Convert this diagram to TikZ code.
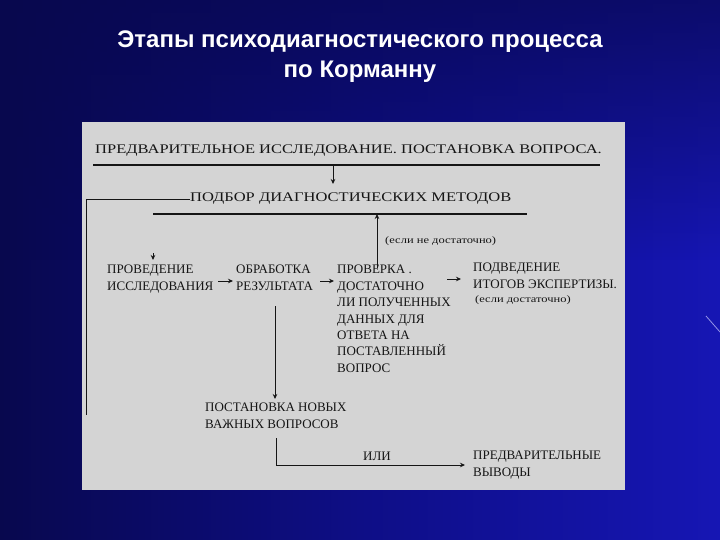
\documentclass[tikz,border=0pt]{standalone}
\usepackage{fontspec}
\setmainfont{Liberation Serif}
\newfontfamily\titlefont{Liberation Sans}
\newfontfamily\widefont[FakeStretch=1.25]{Liberation Serif}
\usetikzlibrary{arrows.meta,fadings}
\definecolor{bgdark}{HTML}{08084E}
\definecolor{bgmid}{HTML}{0E0E86}
\definecolor{bglight}{HTML}{1616B4}
\definecolor{panel}{HTML}{D4D4D4}
\definecolor{ink}{HTML}{151515}
\tikzset{
  big/.style={inner sep=0pt, anchor=west, text=ink, font=\widefont\fontsize{13.2}{16}\selectfont},
  lbl/.style={inner sep=0pt, anchor=west, text=ink, font=\fontsize{13}{16}\selectfont},
  blk/.style={inner sep=0pt, anchor=north west, align=left, text=ink, font=\fontsize{13}{16.4}\selectfont},
  small/.style={inner sep=0pt, anchor=west, text=ink, font=\widefont\fontsize{10}{11}\selectfont},
  rule/.style={draw=ink, line width=2pt},
  conn/.style={draw=ink, line width=0.8pt},
  arr/.style={conn, -{Stealth[length=5pt,width=4.5pt]}},
  ttl/.style={inner sep=0pt, text=white, font=\titlefont\bfseries\fontsize{24}{30}\selectfont}
}
\begin{document}
\begin{tikzpicture}[x=1pt,y=-1pt]
\useasboundingbox (0,0) rectangle (720,540);
\shade[left color=bgdark, right color=bglight, middle color=bgmid] (0,0) rectangle (720,540);
\fill[bgdark, path fading=south, opacity=0.7] (0,0) rectangle (720,260);
\draw[white!80!blue, line width=0.8pt, opacity=0.7] (706,316) -- (720,332);
\fill[panel] (82,122) rectangle (625,490);
% title
\node[ttl] (t1) at (360,42) {Этапы психодиагностического процесса};
\node[ttl] (t2) at (360,72) {по Корманну};
% texts
\node[big] (pre) at (95,151) {ПРЕДВАРИТЕЛЬНОЕ ИССЛЕДОВАНИЕ. ПОСТАНОВКА ВОПРОСА.};
\coordinate (r1a) at (93,165); \coordinate (r1b) at (600,165);
\coordinate (r1m) at (333,165); \coordinate (r1t) at (333,184);
\node[big] (podbor) at (190,199) {ПОДБОР ДИАГНОСТИЧЕСКИХ МЕТОДОВ};
\coordinate (r2a) at (153,214); \coordinate (r2b) at (527,214);
\coordinate (r2m) at (377,214);
\coordinate (lc1) at (86,199); \coordinate (lc2) at (86,415);
\node[small] (nedost) at (385,241) {(если не достаточно)};
\node[blk] (proved) at (107,265) {ПРОВЕДЕНИЕ\\ИССЛЕДОВАНИЯ};
\node[blk] (obrab) at (236,265) {ОБРАБОТКА\\РЕЗУЛЬТАТА};
\node[blk] (prov) at (337,265) {ПРОВЕРКА .\\ДОСТАТОЧНО\\ЛИ ПОЛУЧЕННЫХ\\ДАННЫХ ДЛЯ\\ОТВЕТА НА\\ПОСТАВЛЕННЫЙ\\ВОПРОС};
\node[blk] (podv) at (473,263) {ПОДВЕДЕНИЕ\\ИТОГОВ ЭКСПЕРТИЗЫ.};
\node[small] (dost) at (475,300) {(если достаточно)};
\node[blk] (post) at (205,403) {ПОСТАНОВКА НОВЫХ\\ВАЖНЫХ ВОПРОСОВ};
\node[lbl] (ili) at (363,456) {ИЛИ};
\node[blk] (predv) at (473,451) {ПРЕДВАРИТЕЛЬНЫЕ\\ВЫВОДЫ};
% rules
\draw[rule] (r1a) -- (r1b);
\draw[rule] (r2a) -- (r2b);
% connectors
\draw[arr] (r1m) -- (r1t);
\draw[conn] (podbor.west) -- (lc1) -- (lc2);
\coordinate (tipA) at (153,253); \coordinate (tipB) at (153,260);
\draw[arr] (tipA) -- (tipB);
\coordinate (pt) at (377,268);
\draw[arr] (pt) -- (r2m);
\coordinate (a1) at (218,281); \coordinate (a2) at (233,281);
\draw[arr] (a1) -- (a2);
\coordinate (a3) at (320,281); \coordinate (a4) at (334,281);
\draw[arr] (a3) -- (a4);
\coordinate (a5) at (447,279); \coordinate (a6) at (461,279);
\draw[arr] (a5) -- (a6);
\coordinate (v1) at (275,306); \coordinate (v2) at (275,399);
\draw[arr] (v1) -- (v2);
\coordinate (bend) at (276,465); \coordinate (bendtop) at (276,438);
\coordinate (bendend) at (465,465);
\draw[arr] (bendtop) -- (bend) -- (bendend);
\end{tikzpicture}
\end{document}
